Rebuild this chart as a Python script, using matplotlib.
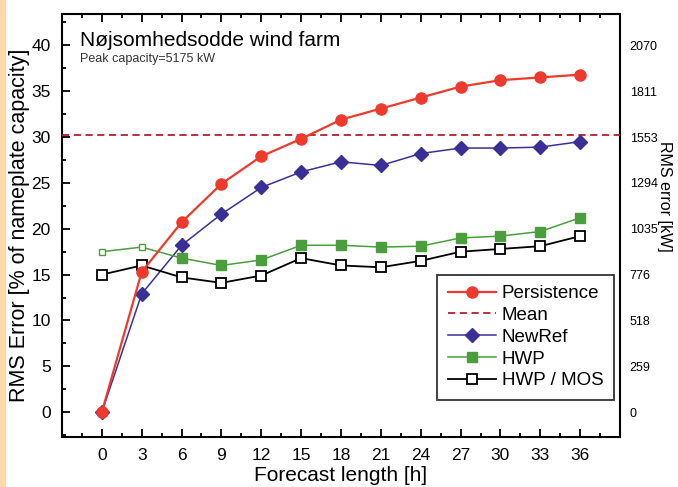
import numpy as np
import matplotlib
matplotlib.use('Agg')
import matplotlib.pyplot as plt
from matplotlib.ticker import MultipleLocator

plt.rcParams['font.family'] = ['Liberation Sans', 'DejaVu Sans']

# data
hours = [0, 3, 6, 9, 12, 15, 18, 21, 24, 27, 30, 33, 36]
persistence = [0, 15.3, 20.7, 24.9, 27.9, 29.8, 31.9, 33.1, 34.3, 35.5, 36.2, 36.5, 36.8]
mean_level = 30.2
newref = [0, 12.9, 18.2, 21.6, 24.5, 26.2, 27.3, 26.9, 28.2, 28.8, 28.8, 28.9, 29.5]
hwp = [17.5, 18.0, 16.8, 16.0, 16.6, 18.2, 18.2, 18.0, 18.1, 19.0, 19.2, 19.7, 21.2]
hwp_mos = [15.0, 16.0, 14.7, 14.1, 14.9, 16.8, 16.0, 15.8, 16.5, 17.5, 17.8, 18.1, 19.2]
right_labels = ['0', '259', '518', '776', '1035', '1294', '1553', '1811', '2070']

red = '#ee3a2c'
navy = '#3a2f96'
green = '#4a9e3c'
darkred = '#b0202a'

fig = plt.figure(figsize=(6.78, 4.87), dpi=100)
# faint orange edge on the left of the original scan
fig.patches.append(plt.Rectangle((0, 0), 0.007, 1, transform=fig.transFigure,
                                 color='#fbd9a8', zorder=0))
ax = fig.add_axes([0.0914, 0.1027, 0.8231, 0.8683])

ax.plot(hours, persistence, '-o', color=red, lw=1.6, ms=8, label='Persistence', zorder=5)
ax.axhline(mean_level, color=darkred, ls='--', lw=1.3, dashes=(4, 2.5), label='Mean', zorder=3)
ax.plot(hours, newref, '-D', color=navy, lw=1.1, ms=7, label='NewRef', zorder=4)
ax.plot(hours, hwp, '-s', color=green, lw=1.1, ms=7, markevery=list(range(2, 13)),
        label='HWP', zorder=4)
ax.plot(hours[:2], hwp[:2], 's', color=green, ms=5, mfc='white', mew=1, zorder=4)
ax.plot(hours, hwp_mos, '-s', color='black', lw=1.3, ms=7, mfc='white', mew=1.3,
        label='HWP / MOS', zorder=4)

ax.set_xlim(-3, 39)
ax.set_ylim(-2.7, 43.4)
ax.set_xticks(hours)
ax.xaxis.set_minor_locator(MultipleLocator(1.5))
ax.yaxis.set_major_locator(MultipleLocator(5))
ax.yaxis.set_minor_locator(MultipleLocator(2.5))
ax.tick_params(which='both', direction='in', top=True, right=True, width=1.3)
ax.tick_params(which='major', length=6, labelsize=12.5, pad=8)
ax.tick_params(which='minor', length=3)
ax.tick_params(axis='y', which='major', labelright=False)
for s in ax.spines.values():
    s.set_linewidth(1.5)

ax.set_xlabel('Forecast length [h]', fontsize=15, labelpad=2)
ax.set_ylabel('RMS Error [% of nameplate capacity]', fontsize=15.5, labelpad=1)

ax2 = ax.twinx()
ax2.set_ylim(ax.get_ylim())
ax2.set_yticks(np.arange(0, 41, 5))
ax2.set_yticklabels(right_labels)
ax2.tick_params(direction='in', length=0, labelsize=9, pad=7)
ax2.set_ylabel('RMS error [kW]', rotation=270, fontsize=11.5, va='center')
ax2.yaxis.set_label_coords(1.08, 0.57)
for s in ax2.spines.values():
    s.set_visible(False)

ax.text(0.032, 0.938, 'Nøjsomhedsodde wind farm', transform=ax.transAxes,
        fontsize=15, va='center', ha='left')
ax.text(0.032, 0.895, 'Peak capacity=5175 kW', transform=ax.transAxes,
        fontsize=9, va='center', ha='left', color='#333333')

leg = ax.legend(loc='lower right', bbox_to_anchor=(1.006, 0.066), fontsize=13.5,
                frameon=True, fancybox=False, edgecolor='black', handlelength=2.6,
                borderpad=0.55, labelspacing=0.25, handletextpad=0.3)
leg.get_frame().set_linewidth(1.3)

fig.savefig('out.png', dpi=100)
